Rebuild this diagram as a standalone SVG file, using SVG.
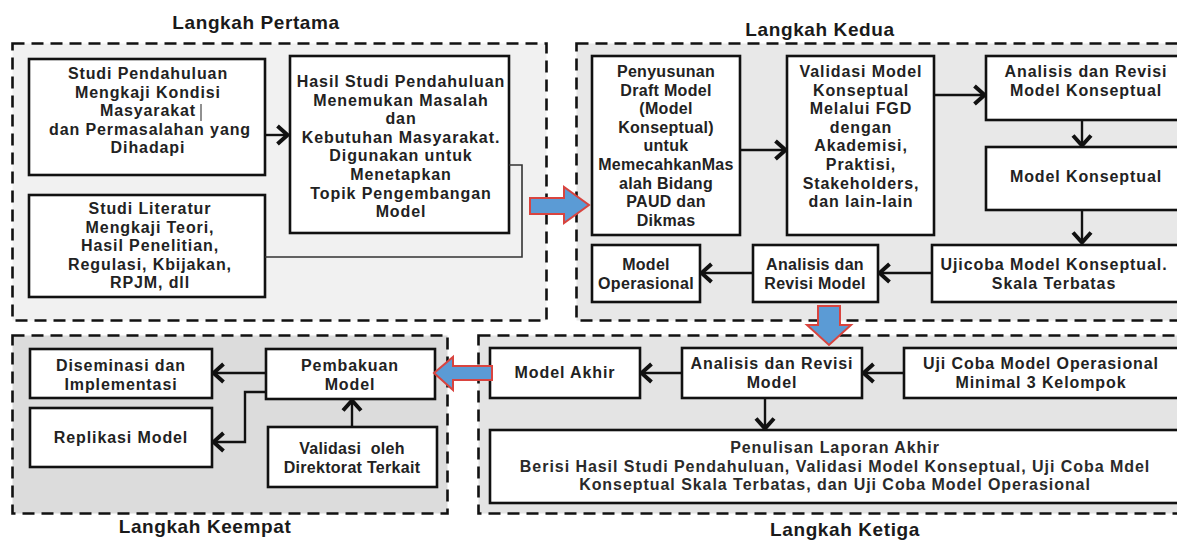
<svg xmlns="http://www.w3.org/2000/svg" width="1177" height="540" viewBox="0 0 1177 540">
  <defs>
    <marker id="chev" viewBox="0 0 14 22" refX="12.5" refY="11" markerWidth="14" markerHeight="22" markerUnits="userSpaceOnUse" orient="auto">
      <path d="M2,2 L12,11 L2,20" fill="none" stroke="#111" stroke-width="4" stroke-linejoin="miter"/>
    </marker>
  </defs>
  <style>
    text { font-family: "Liberation Sans", Arial, sans-serif; font-weight: 700; font-size: 16px; letter-spacing: 0.9px; fill: #222; text-anchor: middle; }
    .title { font-size: 19px; letter-spacing: 0.6px; fill: #1a1a1a; }
    .tight { letter-spacing: 0.3px; }
    .plain { letter-spacing: 0.95px; fill: #2a2a2a; }
    .stage { stroke: #111; stroke-width: 2.6; stroke-dasharray: 12 7; }
    .box { fill: #fff; stroke: #111; stroke-width: 2.6; }
    .link { fill: none; stroke: #111; stroke-width: 2.4; marker-end: url(#chev); }
    .thin { fill: none; stroke: #333; stroke-width: 1.6; }
    .big { fill: #5b9bd5; stroke: #d9443f; stroke-width: 2; stroke-linejoin: miter; }
  </style>

  <rect width="1177" height="540" fill="#fff"/>

  <!-- Stage frames -->
  <g id="stages">
    <rect class="stage" x="12.5" y="43.5" width="534" height="277" fill="#f1f1f1"/>
    <rect class="stage" x="576.5" y="43.5" width="620" height="277" fill="#e8e8e8"/>
    <rect class="stage" x="12.5" y="335.5" width="435" height="178" fill="#dcdcdc"/>
    <rect class="stage" x="478.5" y="335.5" width="720" height="178" fill="#e4e4e4"/>
    <text class="title" x="256" y="29">Langkah Pertama</text>
    <text class="title" x="820" y="36">Langkah Kedua</text>
    <text class="title" x="205" y="533">Langkah Keempat</text>
    <text class="title" x="845" y="536">Langkah Ketiga</text>
  </g>

  <!-- Step 1 -->
  <g id="studi-pendahuluan">
    <rect class="box" x="29" y="59" width="236" height="116"/>
    <text x="148" y="79">Studi Pendahuluan<tspan x="148" dy="18.6">Mengkaji Kondisi</tspan><tspan x="148" dy="18.6">Masyarakat</tspan><tspan x="150" dy="18.6">dan Permasalahan yang</tspan><tspan x="148" dy="18.6">Dihadapi</tspan></text>
    <line x1="201" y1="104" x2="201" y2="121" stroke="#222" stroke-width="1"/>
  </g>

  <g id="studi-literatur">
    <rect class="box" x="29" y="195" width="236" height="102"/>
    <text x="150" y="214">Studi Literatur<tspan x="150" dy="18.6">Mengkaji Teori,</tspan><tspan x="150" dy="18.6">Hasil Penelitian,</tspan><tspan x="150" dy="18.6">Regulasi, Kbijakan,</tspan><tspan x="150" dy="18.6">RPJM, dll</tspan></text>
  </g>

  <g id="hasil-studi">
    <rect class="box" x="290" y="56" width="219" height="177"/>
    <text x="401" y="87">Hasil Studi Pendahuluan<tspan x="401" dy="18.6">Menemukan Masalah</tspan><tspan x="401" dy="18.6">dan</tspan><tspan x="401" dy="18.6">Kebutuhan Masyarakat.</tspan><tspan x="401" dy="18.6">Digunakan untuk</tspan><tspan x="401" dy="18.6">Menetapkan</tspan><tspan x="401" dy="18.6">Topik Pengembangan</tspan><tspan x="401" dy="18.6">Model</tspan></text>
  </g>

  <!-- Step 2 -->
  <g id="penyusunan">
    <rect class="box" x="592" y="56" width="148" height="179"/>
    <text class="tight" x="666" y="77">Penyusunan<tspan x="666" dy="18.6">Draft Model</tspan><tspan x="666" dy="18.6">(Model</tspan><tspan x="666" dy="18.6">Konseptual)</tspan><tspan x="666" dy="18.6">untuk</tspan><tspan x="666" dy="18.6">MemecahkanMas</tspan><tspan x="666" dy="18.6">alah Bidang</tspan><tspan x="666" dy="18.6">PAUD dan</tspan><tspan x="666" dy="18.6">Dikmas</tspan></text>
  </g>

  <g id="validasi-fgd">
    <rect class="box" x="787" y="56" width="147" height="179"/>
    <text x="861" y="77">Validasi Model<tspan x="861" dy="18.6">Konseptual</tspan><tspan x="861" dy="18.6">Melalui FGD</tspan><tspan x="861" dy="18.6">dengan</tspan><tspan x="861" dy="18.6">Akademisi,</tspan><tspan x="861" dy="18.6">Praktisi,</tspan><tspan x="861" dy="18.6">Stakeholders,</tspan><tspan x="861" dy="18.6">dan lain-lain</tspan></text>
  </g>

  <g id="analisis-konseptual">
    <rect class="box" x="986" y="56" width="210" height="64"/>
    <text x="1086" y="77">Analisis dan Revisi<tspan x="1086" dy="18.6">Model Konseptual</tspan></text>
  </g>

  <g id="model-konseptual">
    <rect class="box" x="986" y="147" width="210" height="63"/>
    <text x="1086" y="182">Model Konseptual</text>
  </g>

  <g id="ujicoba-terbatas">
    <rect class="box" x="932" y="245" width="264" height="57"/>
    <text x="1054" y="270">Ujicoba Model Konseptual.<tspan x="1054" dy="18.6">Skala Terbatas</tspan></text>
  </g>

  <g id="analisis-revisi-1">
    <rect class="box" x="753" y="245" width="125" height="57"/>
    <text class="tight" x="815" y="270">Analisis dan<tspan x="815" dy="18.6">Revisi Model</tspan></text>
  </g>

  <g id="model-operasional">
    <rect class="box" x="592" y="245" width="108" height="57"/>
    <text class="tight" x="646" y="270">Model<tspan x="646" dy="18.6">Operasional</tspan></text>
  </g>

  <!-- Step 3 -->
  <g id="model-akhir">
    <rect class="box" x="490" y="348" width="150" height="50"/>
    <text x="565" y="378">Model Akhir</text>
  </g>

  <g id="analisis-revisi-2">
    <rect class="box" x="682" y="348" width="180" height="50"/>
    <text x="772" y="369">Analisis dan Revisi<tspan x="772" dy="19">Model</tspan></text>
  </g>

  <g id="uji-operasional">
    <rect class="box" x="904" y="348" width="292" height="50"/>
    <text x="1041" y="369">Uji Coba Model Operasional<tspan x="1041" dy="19">Minimal 3 Kelompok</tspan></text>
  </g>

  <g id="laporan-akhir">
    <rect class="box" x="490" y="430" width="706" height="73"/>
    <text class="plain" x="835" y="453">Penulisan Laporan Akhir<tspan x="835" dy="18.6">Berisi Hasil Studi Pendahuluan, Validasi Model Konseptual, Uji Coba Mdel</tspan><tspan x="835" dy="18.6">Konseptual Skala Terbatas, dan Uji Coba Model Operasional</tspan></text>
  </g>

  <!-- Step 4 -->
  <g id="diseminasi">
    <rect class="box" x="30" y="349" width="182" height="49"/>
    <text x="121" y="371">Diseminasi dan<tspan x="121" dy="18.6">Implementasi</tspan></text>
  </g>

  <g id="replikasi">
    <rect class="box" x="30" y="408" width="182" height="59"/>
    <text x="121" y="443">Replikasi Model</text>
  </g>

  <g id="pembakuan">
    <rect class="box" x="266" y="349" width="169" height="50"/>
    <text x="350" y="371">Pembakuan<tspan x="350" dy="18.6">Model</tspan></text>
  </g>

  <g id="validasi-direktorat">
    <rect class="box" x="268" y="427" width="169" height="60"/>
    <text class="tight" x="352" y="454" xml:space="preserve">Validasi  oleh<tspan x="352" dy="18.6">Direktorat Terkait</tspan></text>
  </g>

  <!-- Connectors -->
  <g id="connectors">
    <path class="link" d="M265,135 H288"/>
    <path class="thin" d="M265,257 H522 V165 H509"/>

    <path class="link" d="M740,150 H786"/>
    <path class="link" d="M934,95 H985"/>
    <path class="link" d="M1082,120 V146"/>
    <path class="link" d="M1082,210 V243"/>
    <path class="link" d="M932,273 H879"/>
    <path class="link" d="M753,273 H701"/>

    <path class="link" d="M904,373 H863"/>
    <path class="link" d="M682,373 H641"/>
    <path class="link" d="M765,398 V429"/>

    <path class="link" d="M266,373 H213"/>
    <path class="link" d="M266,392 H245 V442 H213"/>
    <path class="link" d="M352,427 V400"/>

    <!-- block arrows between stages -->
    <polygon class="big" points="530,198 564,198 564,187 589,205 564,223 564,214 530,214"/>
    <polygon class="big" points="818,306 840,306 840,325 851,325 829,345 807,325 818,325"/>
    <polygon class="big" points="492,366 453,366 453,357 434,373 453,390 453,380 492,380"/>
  </g>
</svg>
